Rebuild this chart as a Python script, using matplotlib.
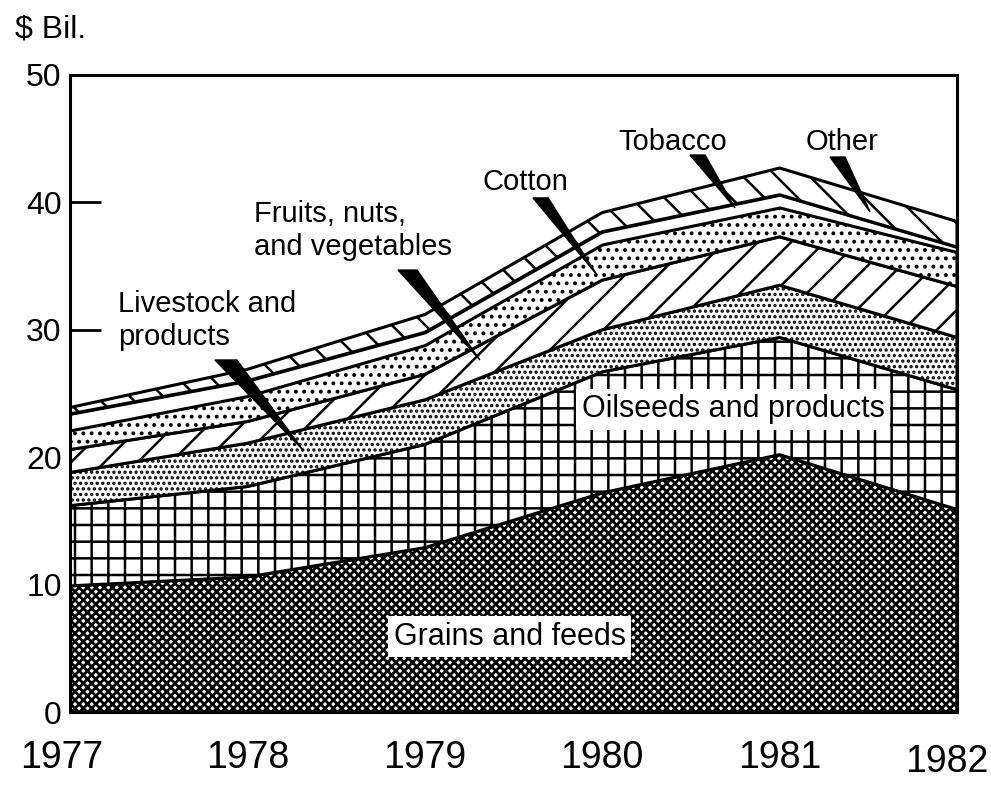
import numpy as np
import matplotlib
matplotlib.use("Agg")
import matplotlib.pyplot as plt
from matplotlib.patches import Polygon
from matplotlib.transforms import ScaledTranslation

plt.rcParams['font.family'] = ['Liberation Sans', 'DejaVu Sans']
plt.rcParams['hatch.linewidth'] = 1.6
plt.rcParams['hatch.color'] = 'black'

years = [1977, 1978, 1979, 1980, 1981, 1982]
grains = [9.9, 10.6, 12.9, 17.2, 20.2, 15.9]
oilseeds = [6.3, 7.1, 8.1, 9.5, 9.2, 9.4]
livestock = [2.6, 3.4, 3.5, 3.3, 4.1, 4.1]
fruits = [1.8, 1.7, 2.0, 3.9, 3.8, 4.0]
cotton = [1.5, 2.0, 2.3, 2.8, 2.3, 2.7]
tobacco = [1.3, 1.2, 1.0, 1.0, 1.0, 0.4]
other = [0.5, 0.9, 1.4, 1.5, 2.1, 2.0]

series = [grains, oilseeds, livestock, fruits, cotton, tobacco, other]
hatches = ['xxxx', '+', '...', '/', '..', None, '\\']
hatch_lw = [2.0, 1.8, 1.6, 1.8, 1.6, 1.6, 1.8]
yticks = [0, 10, 20, 30, 40, 50]

fig = plt.figure(figsize=(9.91, 7.86), dpi=100)
ax = fig.add_axes([70/991, 1-712/786, 887/991, 637/786])

x = np.array(years, dtype=float)
base = np.zeros(len(years))
for vals, h, hl in zip(series, hatches, hatch_lw):
    top = base + np.array(vals)
    pc = ax.fill_between(x, base, top, facecolor='white', edgecolor='black',
                         linewidth=2.2, hatch=h, zorder=2)
    if hasattr(pc, 'set_hatch_linewidth'):
        pc.set_hatch_linewidth(hl)
    base = top

ax.set_xlim(1977, 1982)
ax.set_ylim(0, 50)
ax.set_xticks(years)
ax.set_xticklabels([str(y) for y in years], fontsize=27)
ax.set_yticks(yticks)
ax.set_yticklabels([str(v) for v in yticks], fontsize=23)
ax.tick_params(axis='y', direction='in', length=22, width=2, pad=6)
ax.tick_params(axis='x', direction='in', length=15, width=2, pad=20)
ax.set_axisbelow(True)
for s in ax.spines.values():
    s.set_linewidth(2.2)
    s.set_zorder(5)

xlabels = ax.get_xticklabels()
xlabels[0].set_transform(xlabels[0].get_transform() + ScaledTranslation(-8/100, 0, fig.dpi_scale_trans))
xlabels[-1].set_transform(xlabels[-1].get_transform() + ScaledTranslation(-10/100, -4/100, fig.dpi_scale_trans))

fig.text(15/991, 1-38/786, '$ Bil.', fontsize=23, va='baseline', ha='left')

fs = 21
# pointer labels
ax.text(1977.27, 31.4, 'Livestock and', fontsize=fs, va='baseline', ha='left')
ax.text(1977.27, 28.8, 'products', fontsize=fs, va='baseline', ha='left')
ax.text(1978.04, 38.46, 'Fruits, nuts,', fontsize=fs, va='baseline', ha='left')
ax.text(1978.04, 35.87, 'and vegetables', fontsize=fs, va='baseline', ha='left')
ax.text(1979.565, 40.97, 'Cotton', fontsize=fs, va='baseline', ha='center')
ax.text(1980.40, 44.1, 'Tobacco', fontsize=fs, va='baseline', ha='center')
ax.text(1981.35, 44.1, 'Other', fontsize=fs, va='baseline', ha='center')

wedges = [
    [(1977.817, 27.63), (1977.941, 27.63), (1978.313, 20.57)],
    [(1978.849, 34.69), (1978.956, 34.69), (1979.311, 27.63)],
    [(1979.61, 40.35), (1979.695, 40.35), (1979.971, 34.3)],
    [(1980.495, 43.72), (1980.58, 43.72), (1980.749, 39.56)],
    [(1981.284, 43.56), (1981.369, 43.56), (1981.51, 39.25)],
]
for w in wedges:
    ax.add_patch(Polygon(w, closed=True, facecolor='black', edgecolor='black',
                         linewidth=1, zorder=6, clip_on=False))

box = dict(facecolor='white', edgecolor='none', pad=4)
ax.text(1980.737, 23.78, 'Oilseeds and products', fontsize=22, ha='center',
        va='center', bbox=box, zorder=7)
ax.text(1979.48, 5.89, 'Grains and feeds', fontsize=22, ha='center',
        va='center', bbox=box, zorder=7)

fig.savefig('out.png', dpi=100)
